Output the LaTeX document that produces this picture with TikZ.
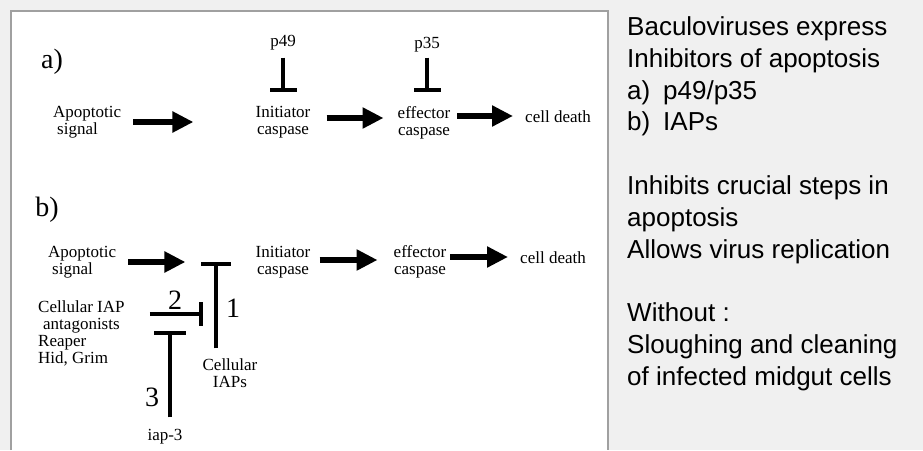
\documentclass[tikz,border=0pt]{standalone}
\usepackage{fontspec}
\setmainfont{Liberation Serif}
\newfontfamily\panelfont{Liberation Sans}
\usepackage{tikz}
\usetikzlibrary{arrows.meta, positioning}
\definecolor{winBg}{RGB}{240,240,240}
\definecolor{winEdge}{RGB}{160,160,160}

\begin{document}
\begin{tikzpicture}[
    x=1pt, y=-1pt,
    lbl/.style={font=\fontsize{17}{17}\selectfont, inner sep=0pt, align=center},
    part/.style={font=\fontsize{28}{28}\selectfont, inner sep=0pt},
    arr/.style={line width=5.5pt, -{Triangle[length=21pt,width=20pt]}},
    inh/.style={line width=4pt, -{Bar[width=#1]}},
    panel/.style={font=\panelfont\fontsize{26}{31.8}\selectfont, inner sep=0pt, align=left}
  ]
  \fill[winBg] (0,0) rectangle (923,450);
  \useasboundingbox (0,0) rectangle (923,450);
  % white figure area
  \fill[white] (11,11) rectangle (608,450);
  \draw[winEdge, line width=2pt] (11,450) -- (11,11) -- (608,11) -- (608,450);

  % a) viral inhibitors p49 / p35
  \node[part] (la) at (52,62) {a)};
  \node[lbl, align=left, anchor=west] (sigA) at (53,122) {Apoptotic\\\hspace{4pt}signal};
  \node[lbl] (initA) at (283,122) {Initiator\\caspase};
  \node[lbl] (effA) at (424,123) {effector\\caspase};
  \node[lbl] (deathA) at (558,117) {cell death};
  \node[lbl] (p49) at (283,43) {p49};
  \node[lbl] (p35) at (427,45) {p35};

  \draw[arr] ([xshift=12pt]sigA.east) -- ([xshift=-62pt]initA.west);
  \draw[arr] ([xshift=16pt,yshift=4pt]initA.east) -- ([xshift=-14pt,yshift=5pt]effA.west);
  \draw[arr] ([xshift=7pt,yshift=7pt]effA.east) -- ([xshift=-12pt,yshift=1pt]deathA.west);
  \draw[inh=27pt, shorten <=7pt, shorten >=14pt] (p49.south) -- (p49.south |- initA.north);
  \draw[inh=27pt, shorten <=5pt, shorten >=15pt] (p35.south) -- (p35.south |- effA.north);

  % b) cellular IAPs
  \node[part] (lb) at (47,210) {b)};
  \node[lbl, align=left, anchor=west] (sigB) at (48,262) {Apoptotic\\\hspace{4pt}signal};
  \node[lbl] (initB) at (283,262) {Initiator\\caspase};
  \node[lbl] (effB) at (420,262) {effector\\caspase};
  \node[lbl] (deathB) at (553,258) {cell death};
  \node[lbl, align=left, anchor=west] (antag) at (38,333) {Cellular IAP\\\hspace{5pt}antagonists\\Reaper\\Hid, Grim};
  \node[lbl] (ciap) at (230,373) {Cellular\\IAPs};
  \node[lbl] (iap3) at (165,437) {iap-3};
  \node[part] (n1) at (233,308) {1};
  \node[part] (n2) at (175,300) {2};
  \node[part] (n3) at (152,397) {3};
  \coordinate (blk) at (216,262);
  \coordinate (t2end) at (216,314);
  \coordinate (t3end) at (170,331);

  \draw[arr] ([xshift=12pt]sigB.east) -- ([xshift=-70pt]initB.west);
  \draw[arr] ([xshift=9pt,yshift=2pt]initB.east) -- ([xshift=-16pt,yshift=2pt]effB.west);
  \draw[arr] ([xshift=4pt,yshift=5pt]effB.east) -- ([xshift=-12pt,yshift=1pt]deathB.west);
  \draw[inh=30pt, shorten <=10pt] (ciap.north -| blk) -- (blk);
  \draw[inh=24pt, shorten <=25pt, shorten >=13pt] (antag.east |- t2end) -- (t2end);
  \draw[inh=32pt, shorten <=12pt] (iap3.north -| t3end) -- (t3end);

  % notes on the right
  \node[panel, anchor=north west] (notes) at (627,16.5) {Baculoviruses express\\
    Inhibitors of apoptosis\\
    \makebox[36pt][l]{a)}p49/p35\\
    \makebox[36pt][l]{b)}IAPs\\[31.8pt]
    Inhibits crucial steps in\\
    apoptosis\\
    Allows virus replication\\[31.8pt]
    Without :\\
    Sloughing and cleaning\\
    of infected midgut cells};
\end{tikzpicture}
\end{document}
